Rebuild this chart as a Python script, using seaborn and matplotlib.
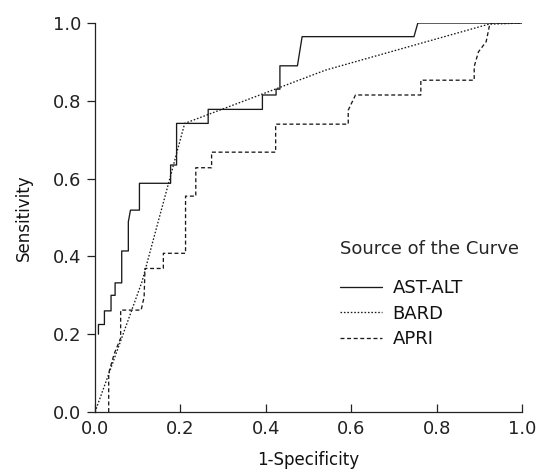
import matplotlib
matplotlib.use("Agg")
import matplotlib.pyplot as plt
import seaborn as sns
import pandas as pd

# AST-ALT ROC curve (solid)
ast_fpr = [0.008, 0.008, 0.022, 0.022, 0.0375, 0.0375, 0.047, 0.047, 0.0625, 0.0625,
           0.078, 0.078, 0.083, 0.104, 0.104, 0.177, 0.177, 0.191, 0.191, 0.265,
           0.265, 0.392, 0.392, 0.424, 0.424, 0.433, 0.433, 0.474, 0.485, 0.747,
           0.756, 1.0]
ast_tpr = [0.20, 0.225, 0.225, 0.26, 0.26, 0.30, 0.30, 0.332, 0.332, 0.414,
           0.414, 0.489, 0.519, 0.519, 0.588, 0.588, 0.635, 0.635, 0.742, 0.742,
           0.778, 0.778, 0.815, 0.815, 0.83, 0.83, 0.89, 0.89, 0.965, 0.965,
           1.0, 1.0]

# BARD ROC curve (dotted)
bard_fpr = [0.0, 0.11, 0.21, 0.54, 0.922, 1.0]
bard_tpr = [0.0, 0.335, 0.742, 0.879, 0.997, 1.0]

# APRI ROC curve (dashed)
apri_fpr = [0.032, 0.032, 0.045, 0.06, 0.06, 0.108, 0.115, 0.117, 0.16, 0.16,
            0.212, 0.212, 0.236, 0.236, 0.273, 0.273, 0.423, 0.423, 0.593, 0.593,
            0.61, 0.763, 0.763, 0.888, 0.888, 0.898, 0.916, 0.925, 1.0]
apri_tpr = [0.0, 0.10, 0.15, 0.19, 0.262, 0.262, 0.296, 0.369, 0.369, 0.408,
            0.408, 0.555, 0.555, 0.628, 0.628, 0.668, 0.668, 0.74, 0.74, 0.776,
            0.815, 0.815, 0.853, 0.853, 0.888, 0.926, 0.952, 1.0, 1.0]

ticks = [0.0, 0.2, 0.4, 0.6, 0.8, 1.0]
tick_labels = ["0.0", "0.2", "0.4", "0.6", "0.8", "1.0"]

sns.set_theme(style="white")
plt.rcParams["font.family"] = ["DejaVu Sans"]

fig = plt.figure(figsize=(5.39, 4.69), dpi=100)
ax = fig.add_axes([0.1763, 0.1215, 0.7922, 0.8294])

lw = 0.95
sns.lineplot(x=ast_fpr, y=ast_tpr, sort=False, estimator=None, ax=ax,
             color="#1a1a1a", linewidth=lw, linestyle="-", label="AST-ALT")
sns.lineplot(x=bard_fpr, y=bard_tpr, sort=False, estimator=None, ax=ax,
             color="#1a1a1a", linewidth=lw, linestyle=(0, (1.2, 1.4)), label="BARD")
sns.lineplot(x=apri_fpr, y=apri_tpr, sort=False, estimator=None, ax=ax,
             color="#1a1a1a", linewidth=lw, linestyle=(0, (3, 2)), label="APRI")

ax.set_xlim(0, 1.0)
ax.set_ylim(0, 1.0)
ax.set_xticks(ticks)
ax.set_xticklabels(tick_labels)
ax.set_yticks(ticks)
ax.set_yticklabels(tick_labels)
ax.tick_params(axis="x", direction="in", length=6, width=0.9, colors="#222222",
               labelsize=13, pad=6, bottom=True)
ax.tick_params(axis="y", direction="out", length=6, width=0.9, colors="#222222",
               labelsize=13, pad=4, left=True)
for s in ["top", "right"]:
    ax.spines[s].set_visible(False)
for s in ["left", "bottom"]:
    ax.spines[s].set_color("#222222")
    ax.spines[s].set_linewidth(0.9)

ax.set_xlabel("1-Specificity", fontsize=12, color="#111111", labelpad=9)
ax.set_ylabel("Sensitivity", fontsize=12, color="#111111", labelpad=14)

leg = ax.legend(title="Source of the Curve", frameon=False, fontsize=13,
                title_fontsize=13, loc="upper left",
                bbox_to_anchor=(0.574, 0.442), borderpad=0, borderaxespad=0,
                handlelength=2.3, handletextpad=0.6, labelspacing=0.42,
                alignment="left")
leg._legend_box.sep = 15
for t in leg.get_texts():
    t.set_color("#111111")

fig.savefig("out.png", dpi=100)
